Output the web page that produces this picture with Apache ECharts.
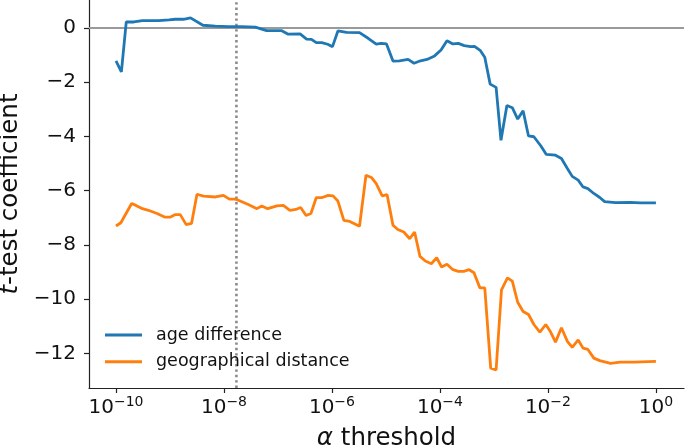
<!DOCTYPE html>
<html>
<head>
<meta charset="utf-8">
<script src="https://cdn.jsdelivr.net/npm/echarts@6/dist/echarts.min.js"></script>
<style>
html,body{margin:0;padding:0;background:#fff;}
#chart{width:685px;height:448px;}
</style>
</head>
<body>
<div id="chart"></div>
<script>
// log10(alpha) positions and t-test coefficients
const ageExp = [-10.0,-9.90,-9.81,-9.67,-9.51,-9.21,-9.02,-8.90,-8.75,-8.62,-8.39,-8.16,-7.92,-7.67,-7.42,-7.21,-6.93,-6.81,-6.59,-6.47,-6.38,-6.29,-6.19,-6.08,-5.99,-5.89,-5.73,-5.49,-5.33,-5.18,-5.09,-4.99,-4.87,-4.75,-4.59,-4.48,-4.36,-4.24,-4.10,-3.98,-3.87,-3.76,-3.66,-3.55,-3.43,-3.36,-3.25,-3.17,-3.07,-2.96,-2.87,-2.76,-2.66,-2.56,-2.46,-2.36,-2.26,-2.13,-2.03,-1.86,-1.75,-1.64,-1.55,-1.44,-1.35,-1.26,-1.15,-1.04,-0.95,-0.75,-0.47,-0.29,0.0];
const ageVal = [-1.21,-1.62,0.22,0.22,0.27,0.27,0.30,0.32,0.32,0.37,0.10,0.07,0.05,0.05,0.03,-0.10,-0.10,-0.23,-0.22,-0.41,-0.42,-0.54,-0.54,-0.60,-0.69,-0.11,-0.16,-0.17,-0.38,-0.60,-0.57,-0.59,-1.22,-1.21,-1.16,-1.30,-1.21,-1.16,-1.03,-0.81,-0.47,-0.59,-0.57,-0.65,-0.69,-0.68,-0.84,-1.08,-2.07,-2.19,-4.14,-2.86,-2.94,-3.36,-3.05,-3.98,-4.01,-4.35,-4.66,-4.69,-4.81,-5.18,-5.47,-5.61,-5.86,-5.92,-6.10,-6.25,-6.40,-6.44,-6.43,-6.45,-6.45];

const geoExp = [-10.0,-9.91,-9.71,-9.63,-9.51,-9.40,-9.24,-9.10,-8.99,-8.90,-8.81,-8.70,-8.60,-8.50,-8.38,-8.16,-8.01,-7.90,-7.79,-7.70,-7.55,-7.39,-7.30,-7.19,-7.02,-6.90,-6.78,-6.67,-6.58,-6.48,-6.39,-6.29,-6.18,-6.07,-5.98,-5.89,-5.78,-5.67,-5.49,-5.37,-5.27,-5.18,-5.07,-4.98,-4.87,-4.78,-4.67,-4.56,-4.47,-4.37,-4.27,-4.16,-4.06,-3.97,-3.87,-3.76,-3.66,-3.56,-3.46,-3.37,-3.26,-3.17,-3.06,-2.96,-2.86,-2.75,-2.66,-2.56,-2.46,-2.36,-2.26,-2.15,-2.04,-1.95,-1.86,-1.75,-1.64,-1.55,-1.44,-1.35,-1.26,-1.15,-1.04,-0.84,-0.66,-0.41,0.0];
const geoVal = [-7.30,-7.18,-6.47,-6.54,-6.66,-6.72,-6.84,-6.97,-6.97,-6.88,-6.88,-7.25,-7.20,-6.13,-6.20,-6.23,-6.17,-6.31,-6.31,-6.38,-6.51,-6.66,-6.56,-6.66,-6.56,-6.54,-6.72,-6.69,-6.62,-6.91,-6.84,-6.25,-6.25,-6.17,-6.19,-6.38,-7.09,-7.13,-7.31,-5.43,-5.51,-5.74,-6.19,-6.14,-7.27,-7.43,-7.52,-7.77,-7.52,-8.42,-8.59,-8.69,-8.47,-8.81,-8.71,-8.91,-8.97,-8.97,-8.91,-9.02,-9.58,-9.58,-12.54,-12.60,-9.65,-9.21,-9.33,-10.11,-10.45,-10.56,-10.93,-11.21,-10.93,-11.21,-11.58,-11.05,-11.55,-11.77,-11.50,-11.80,-11.85,-12.17,-12.26,-12.36,-12.32,-12.32,-12.29];

const xTickExps = [-10, -8, -6, -4, -2, 0];
const yTicks = [-12, -10, -8, -6, -4, -2, 0];
const thresholdAlpha = 1.7e-8;
const yMin = -13.27, yMax = 1.03;
const seriesNames = ['age difference', 'geographical distance'];

const FONT = '"DejaVu Sans", sans-serif';
const toPts = (ex, vals) => ex.map((e, i) => [Math.pow(10, e), vals[i]]);
const minus = (s) => String(s).replace('-', '\u2212');

const chart = echarts.init(document.getElementById('chart'), null, {renderer: 'canvas'});
chart.setOption({
  animation: false,
  backgroundColor: '#fff',
  grid: {left: 89, right: 1, top: 0, bottom: 60, containLabel: false, outerBoundsMode: 'none'},
  legend: {
    data: seriesNames,
    orient: 'vertical',
    left: 105, top: 325,
    padding: 0,
    itemGap: 6.7,
    itemWidth: 37, itemHeight: 3,
    icon: 'rect',
    textStyle: {fontFamily: FONT, fontSize: 17.5, color: '#111', lineHeight: 20, padding: [0, 0, 0, 9]}
  },
  xAxis: {
    type: 'log',
    logBase: 10,
    min: Math.pow(10, -10.5),
    max: Math.pow(10, 0.52),
    name: '{a|\u03b1} threshold',
    nameLocation: 'middle',
    nameGap: 32,
    nameTextStyle: {fontFamily: FONT, fontSize: 24.5, color: '#111', rich: {a: {fontFamily: FONT, fontSize: 24.5, fontStyle: 'italic', color: '#111'}}},
    axisLine: {show: true, onZero: false, lineStyle: {color: '#222', width: 1.2}},
    axisTick: {show: true, length: 5, lineStyle: {color: '#222', width: 1.2}, customValues: xTickExps.map(e => Math.pow(10, e))},
    axisLabel: {
      customValues: xTickExps.map(e => Math.pow(10, e)),
      margin: 8,
      formatter: function (v) {
        const e = Math.round(Math.log10(v));
        return '{b|10}{s|' + minus(e) + '}';
      },
      rich: {
        b: {fontFamily: FONT, fontSize: 20, color: '#111', lineHeight: 24},
        s: {fontFamily: FONT, fontSize: 14, color: '#111', lineHeight: 14, padding: [0, 0, 12, 0]}
      }
    },
    splitLine: {show: false}
  },
  yAxis: {
    type: 'value',
    min: yMin, max: yMax,
    name: '{i|t}-test coefficient',
    nameLocation: 'middle',
    nameGap: 62,
    nameTextStyle: {fontFamily: FONT, fontSize: 24.5, color: '#111', rich: {i: {fontFamily: FONT, fontSize: 24.5, fontStyle: 'italic', color: '#111'}}},
    axisLine: {show: true, onZero: false, lineStyle: {color: '#222', width: 1.2}},
    axisTick: {show: true, length: 5, lineStyle: {color: '#222', width: 1.2}, customValues: yTicks},
    axisLabel: {
      customValues: yTicks,
      margin: 13,
      fontFamily: FONT, fontSize: 20, color: '#111',
      formatter: v => minus(v)
    },
    splitLine: {show: false}
  },
  series: [
    {
      name: 'threshold', type: 'line', silent: true, z: 1,
      data: [[thresholdAlpha, yMin], [thresholdAlpha, yMax]],
      showSymbol: false, symbol: 'none',
      lineStyle: {color: '#8a8a8a', width: 2.6, type: [2.4, 3], cap: 'butt'}
    },
    {
      name: seriesNames[0], type: 'line', data: toPts(ageExp, ageVal),
      showSymbol: false, symbol: 'none', z: 3,
      lineStyle: {color: '#1f77b4', width: 2.8}, itemStyle: {color: '#1f77b4'},
      markLine: {
        silent: true, symbol: 'none', label: {show: false}, animation: false, z: 1,
        data: [
          {yAxis: 0, lineStyle: {color: '#9a9a9a', width: 1.8, type: 'solid'}}
        ]
      }
    },
    {
      name: seriesNames[1], type: 'line', data: toPts(geoExp, geoVal),
      showSymbol: false, symbol: 'none', z: 3,
      lineStyle: {color: '#ff7f0e', width: 2.8}, itemStyle: {color: '#ff7f0e'}
    }
  ]
});
</script>
</body>
</html>
